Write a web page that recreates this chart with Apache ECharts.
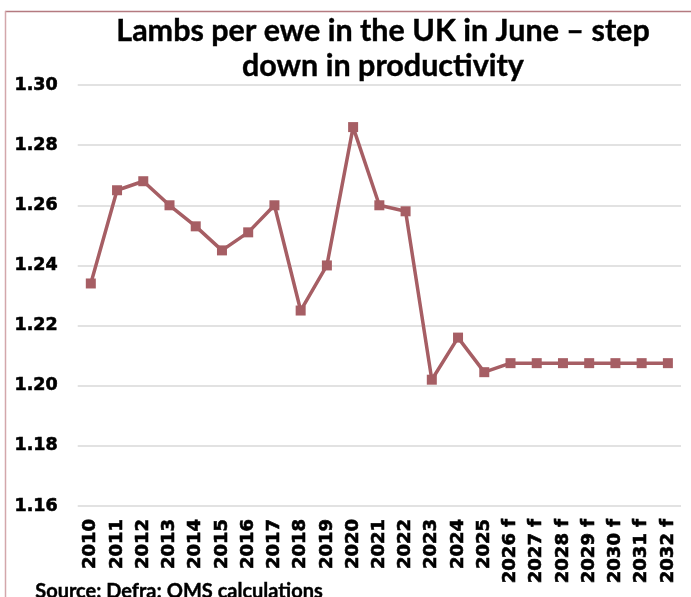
<!DOCTYPE html>
<html>
<head>
<meta charset="utf-8">
<script src="https://cdn.jsdelivr.net/npm/echarts@6/dist/echarts.min.js"></script>
<style>
  html, body { margin: 0; padding: 0; background: #ffffff; }
  #chart { width: 691px; height: 597px; }
</style>
</head>
<body>
<div id="chart"></div>
<script>
// Lambs per ewe in the UK in June, actuals 2010-2025 and forecasts to 2032
const years = ['2010', '2011', '2012', '2013', '2014', '2015', '2016', '2017',
  '2018', '2019', '2020', '2021', '2022', '2023', '2024', '2025',
  '2026 f', '2027 f', '2028 f', '2029 f', '2030 f', '2031 f', '2032 f'];
const lambsPerEwe = [1.234, 1.265, 1.268, 1.260, 1.253, 1.245, 1.251, 1.260,
  1.225, 1.240, 1.286, 1.260, 1.258, 1.202, 1.216, 1.2045,
  1.2075, 1.2075, 1.2075, 1.2075, 1.2075, 1.2075, 1.2075];
const yTicks = [1.16, 1.18, 1.20, 1.22, 1.24, 1.26, 1.28, 1.30];

const chart = echarts.init(document.getElementById('chart'), null, { renderer: 'canvas' });
const TITLE_FONT = 'Lato, "Noto Sans", sans-serif';
const AXIS_FONT = '"DejaVu Sans", sans-serif';

chart.setOption({
  backgroundColor: '#ffffff',
  animation: false,
  title: {
    text: 'Lambs per ewe in the UK in June \u2013 step\ndown in productivity',
    left: 378,
    top: 9,
    textAlign: 'center',
    textStyle: {
      fontFamily: TITLE_FONT,
      fontWeight: 'bold',
      fontSize: 30.5,
      lineHeight: 35,
      color: '#000000',
      textBorderColor: '#000000',
      textBorderWidth: 0.4
    }
  },
  graphic: [
    // frame edges along the top and left of the panel
    { type: 'line', shape: { x1: 5, y1: 11.5, x2: 691, y2: 11.5 },
      style: { stroke: '#b47a80', lineWidth: 1.5 } },
    { type: 'line', shape: { x1: 5.5, y1: 11, x2: 5.5, y2: 597 },
      style: { stroke: '#d3a7ab', lineWidth: 1.5 } },
    { type: 'text', left: 35, top: 581,
      style: { text: 'Source: Defra; QMS calculations', fontFamily: TITLE_FONT,
        fontWeight: 'bold', fontSize: 20, fill: '#000000',
        stroke: '#000000', lineWidth: 0.4 } }
  ],
  grid: { left: 77.7, right: 10, top: 85, bottom: 91 },
  xAxis: {
    type: 'category',
    data: years,
    boundaryGap: true,
    axisLine: { show: false },
    axisTick: { show: false },
    axisLabel: {
      rotate: 90,
      margin: 13,
      interval: 0,
      fontFamily: AXIS_FONT,
      fontWeight: 'bold',
      fontSize: 18,
      color: '#000000',
      textBorderColor: '#000000',
      textBorderWidth: 0.6
    }
  },
  yAxis: {
    type: 'value',
    min: yTicks[0],
    max: yTicks[yTicks.length - 1],
    interval: 0.02,
    axisLine: { show: false },
    axisTick: { show: false },
    splitLine: { lineStyle: { color: '#d9d9d9', width: 1.5 } },
    axisLabel: {
      margin: 20,
      fontFamily: AXIS_FONT,
      fontWeight: 'bold',
      fontSize: 17.5,
      color: '#000000',
      textBorderColor: '#000000',
      textBorderWidth: 0.6,
      formatter: v => v.toFixed(2)
    }
  },
  series: [{
    type: 'line',
    data: lambsPerEwe,
    symbol: 'rect',
    symbolSize: 10,
    lineStyle: { color: '#a65e64', width: 3.5 },
    itemStyle: { color: '#a65e64' }
  }]
});
</script>
</body>
</html>
